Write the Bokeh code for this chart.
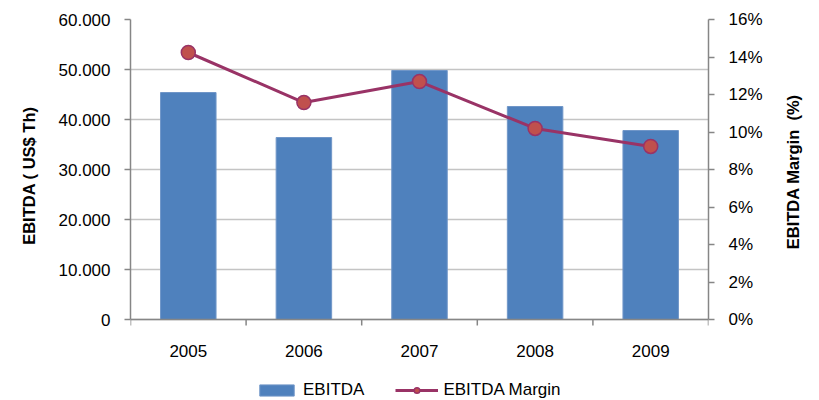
import numpy as np
from bokeh.plotting import figure
from bokeh.models import (Range1d, LinearAxis, FixedTicker, NumeralTickFormatter,
                          ColumnDataSource, Legend, LegendItem, Span)
from bokeh.core.properties import value
from bokeh.embed import file_html
from bokeh.resources import INLINE

years = ["2005", "2006", "2007", "2008", "2009"]
ebitda = [45400, 36400, 49800, 42600, 37800]
margin = [0.1424, 0.1157, 0.1269, 0.1019, 0.0923]
left_ticks = [0, 10000, 20000, 30000, 40000, 50000, 60000]
left_labels = ["0", "10.000", "20.000", "30.000", "40.000", "50.000", "60.000"]
right_ticks = [0, 0.02, 0.04, 0.06, 0.08, 0.10, 0.12, 0.14, 0.16]
left_title = "EBITDA ( US$ Th)"
right_title = "EBITDA Margin\u00a0 (%)"

FONT = "Liberation Sans"
AXIS_GRAY = "#868686"
NBSP = "\u00a0"

# layout (pixels)
PLOT_H = 300          # height of the 0..max value area
BELOW_H = 81          # area below the value axis (year labels + legend)
TICK = 6

n = len(years)
centers = list(np.arange(n) + 0.5)
bounds = list(np.arange(n + 1).astype(float))

ymax, rmax = left_ticks[-1], right_ticks[-1]
ylo = -ymax * BELOW_H / PLOT_H
rlo = -rmax * BELOW_H / PLOT_H
tick_len = TICK * ymax / PLOT_H

src = ColumnDataSource(dict(x=centers, ebitda=ebitda, margin=margin, year=years))
bsrc = ColumnDataSource(dict(b=bounds, y0=[0.0] * len(bounds), y1=[-tick_len] * len(bounds)))

p = figure(frame_width=578, frame_height=PLOT_H + BELOW_H, output_backend="svg",
           toolbar_location=None,
           x_range=Range1d(0, n), y_range=Range1d(ylo, ymax),
           min_border_left=130, min_border_right=103, min_border_top=19, min_border_bottom=0,
           x_axis_location=None, y_axis_location=None)
p.outline_line_color = None
p.background_fill_color = "white"
p.border_fill_color = "white"
p.extra_y_ranges = {"margin": Range1d(rlo, rmax)}

# grid
p.xgrid.visible = False
p.ygrid.ticker = FixedTicker(ticks=left_ticks)
p.ygrid.grid_line_color = "#C4C4C4"
p.ygrid.grid_line_width = 1.5

bars = p.vbar(x="x", top="ebitda", width=0.48, source=src,
              fill_color="#4F81BD", line_color="#7096C8", line_width=1)
line = p.line(x="x", y="margin", source=src, y_range_name="margin",
              line_color="#993366", line_width=3)
pts = p.scatter(x="x", y="margin", source=src, y_range_name="margin", size=14,
                fill_color="#C0504D", line_color="#993366", line_width=1.5)

# category axis: base line, boundary ticks, year labels
p.add_layout(Span(location=0, dimension="width", line_color=AXIS_GRAY, line_width=1.5))
p.segment(x0="b", y0="y0", x1="b", y1="y1", source=bsrc, line_color=AXIS_GRAY, line_width=1.5)
p.text(x="x", y=0, text="year", source=src, y_offset=31, text_align="center",
       text_baseline="middle", text_font=value(FONT), text_font_size="17px", text_color="black")

def style(ax):
    ax.axis_line_color = AXIS_GRAY
    ax.axis_line_width = 1.5
    ax.major_tick_line_color = AXIS_GRAY
    ax.major_tick_line_width = 1.5
    ax.major_tick_out = TICK
    ax.major_tick_in = 0
    ax.minor_tick_line_color = None
    ax.major_label_text_font = FONT
    ax.major_label_text_font_size = "17px"
    ax.major_label_text_color = "black"
    ax.axis_label_text_font = FONT
    ax.axis_label_text_font_size = "16.5px"
    ax.axis_label_text_font_style = "bold"
    ax.axis_label_text_color = "black"

# left axis (leading no-break spaces shift the centred title up over the value area)
la = LinearAxis(ticker=FixedTicker(ticks=left_ticks), bounds=(0, ymax),
                major_label_overrides={t: l for t, l in zip(left_ticks, left_labels)},
                axis_label=NBSP * 15 + left_title)
style(la)
la.major_label_standoff = 14
la.axis_label_standoff = 18
p.add_layout(la, "left")

# right axis (title read bottom-to-top, anchored at the frame bottom)
ra = LinearAxis(y_range_name="margin", ticker=FixedTicker(ticks=right_ticks), bounds=(0, rmax),
                formatter=NumeralTickFormatter(format="0%"),
                axis_label=NBSP * 33 + right_title)
style(ra)
ra.major_label_standoff = 14
ra.axis_label_standoff = 27
ra.axis_label_orientation = np.pi / 2
ra.axis_label_align = "start"
p.add_layout(ra, "right")

legend = Legend(items=[LegendItem(label="EBITDA", renderers=[bars]),
                       LegendItem(label="EBITDA Margin", renderers=[line, pts])],
                orientation="horizontal", location=(125, 0),
                label_text_font=FONT, label_text_font_size="17px", label_text_color="black",
                glyph_width=43, glyph_height=14, label_standoff=5, spacing=31,
                padding=2, margin=0, border_line_color=None, background_fill_alpha=0)
p.add_layout(legend, "center")

open("out.html", "w").write(file_html(p, INLINE))
